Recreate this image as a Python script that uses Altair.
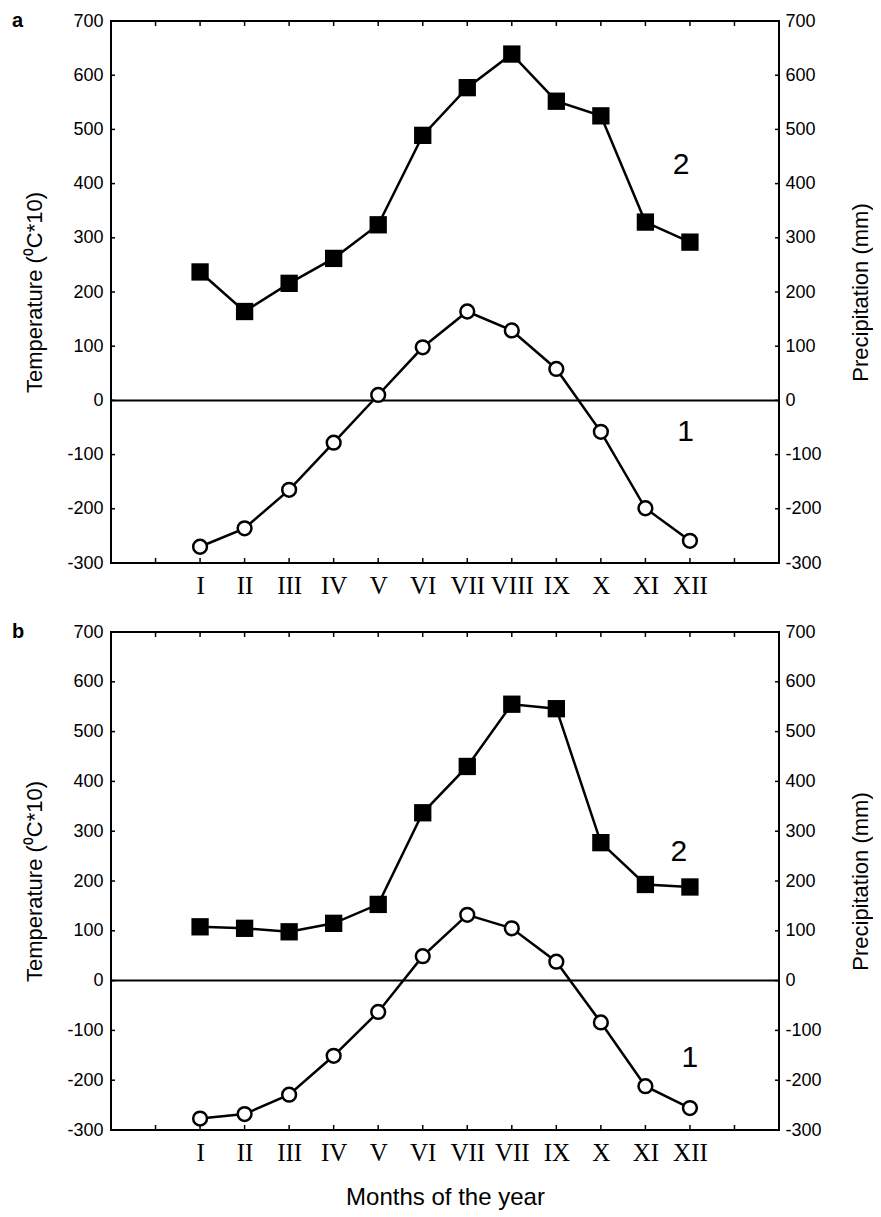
import altair as alt
import pandas as pd

# ---- data ----
months_a = ["I", "II", "III", "IV", "V", "VI", "VII", "VIII", "IX", "X", "XI", "XII"]
months_b = ["I", "II", "III", "IV", "V", "VI", "VII", "VII", "IX", "X", "XI", "XII"]
month_pos = [2, 3, 4, 5, 6, 7, 8, 9, 10, 11, 12, 13]
tick_pos_x = [1, 2, 3, 4, 5, 6, 7, 8, 9, 10, 11, 12, 13, 14]
tick_pos_y = [-200, -100, 0, 100, 200, 300, 400, 500, 600]
y_labels = [-300, -200, -100, 0, 100, 200, 300, 400, 500, 600, 700]

temp_a = [-270, -236, -165, -78, 10, 98, 164, 129, 58, -58, -199, -259]
prec_a = [237, 164, 216, 262, 324, 489, 577, 639, 552, 525, 329, 292]
temp_b = [-277, -268, -229, -151, -63, 49, 132, 105, 38, -84, -212, -256]
prec_b = [108, 105, 98, 115, 153, 337, 430, 555, 546, 277, 193, 188]

series_labels = ["1", "2"]
lab_a_x = [12.9, 12.8]
lab_a_y = [-58, 434]
lab_b_x = [13.0, 12.75]
lab_b_y = [-155, 258]

W = 668
FONT = "Liberation Sans"


def panel(names, temp, prec, lx, ly, letter, H, last):
    df = pd.DataFrame({"pos": month_pos, "temp": temp, "prec": prec})
    xs = alt.Scale(domain=[0, 15], nice=False, zero=False)
    ys = alt.Scale(domain=[-300, 700], nice=False, zero=False)
    label_expr = "[" + ",".join("'%s'" % n for n in names) + "][datum.value-2]"
    xaxis_kw = dict(values=month_pos, labelExpr=label_expr, ticks=False, domain=False,
                    grid=False, labelFont="Liberation Serif", labelFontSize=25,
                    labelPadding=10, labelColor="black", labelOverlap=False)
    if last:
        xaxis_kw.update(title="Months of the year", titleFont=FONT, titleFontSize=24,
                        titleFontWeight="normal", titlePadding=20, titleColor="black")
    else:
        xaxis_kw.update(title="")
    xaxis = alt.Axis(**xaxis_kw)
    Xf = lambda f: alt.X(f, scale=xs, axis=xaxis)

    left_axis = alt.Axis(values=y_labels, ticks=False, domain=False, grid=False,
                         labelExpr="datum.value + ''", labelPadding=8,
                         title="Temperature (\u2070C*10)", titlePadding=20)
    right_axis = alt.Axis(values=y_labels, ticks=False, domain=False, grid=False,
                          orient="right", labelPadding=6, labelAlign="left",
                          labelExpr="datum.value + ''",
                          title="Precipitation (mm)", titleAngle=270, titleBaseline="top",
                          titlePadding=29)

    base = alt.Chart(df)
    t_line = base.mark_line(color="black", strokeWidth=2.5).encode(
        x=Xf("pos:Q"), y=alt.Y("temp:Q", scale=ys, axis=left_axis))
    t_pts = base.mark_point(shape="circle", filled=True, fill="white", stroke="black",
                            strokeWidth=2.5, size=190, opacity=1).encode(
        x=Xf("pos:Q"), y=alt.Y("temp:Q", scale=ys, axis=None))
    p_line = base.mark_line(color="black", strokeWidth=2.5).encode(
        x=Xf("pos:Q"), y=alt.Y("prec:Q", scale=ys, axis=right_axis))
    p_pts = base.mark_point(shape="square", filled=True, color="black", size=300,
                            opacity=1).encode(
        x=Xf("pos:Q"), y=alt.Y("prec:Q", scale=ys, axis=None))

    zero = alt.Chart(pd.DataFrame({"z": [0]})).mark_rule(color="black", strokeWidth=2).encode(
        y=alt.Y("z:Q", scale=ys, axis=None))

    tx = pd.DataFrame({"t": tick_pos_x})
    ty = pd.DataFrame({"v": tick_pos_y})
    tb = alt.Chart(tx).mark_rule(color="black", strokeWidth=1.5).encode(
        x=Xf("t:Q"), y=alt.value(H - 5), y2=alt.value(H))
    tt = alt.Chart(tx).mark_rule(color="black", strokeWidth=1.5).encode(
        x=Xf("t:Q"), y=alt.value(0), y2=alt.value(5))
    tl = alt.Chart(ty).mark_rule(color="black", strokeWidth=1.5).encode(
        y=alt.Y("v:Q", scale=ys, axis=None), x=alt.value(0), x2=alt.value(4))
    tr = alt.Chart(ty).mark_rule(color="black", strokeWidth=1.5).encode(
        y=alt.Y("v:Q", scale=ys, axis=None), x=alt.value(W - 4), x2=alt.value(W))

    labs = alt.Chart(pd.DataFrame({"x": lx, "y": ly, "t": series_labels})).mark_text(
        font=FONT, fontSize=30, color="black", align="center", baseline="middle").encode(
        x=Xf("x:Q"), y=alt.Y("y:Q", scale=ys, axis=None), text="t:N")

    let = alt.Chart(pd.DataFrame({"t": [letter]})).mark_text(
        font=FONT, fontSize=20, fontWeight="bold", color="black", align="left",
        baseline="top").encode(x=alt.value(-99), y=alt.value(-10), text="t:N")

    return alt.layer(t_line, p_line, zero, tb, tt, tl, tr, t_pts, p_pts, labs, let).resolve_scale(
        y="independent").properties(width=W, height=H)


pa = panel(months_a, temp_a, prec_a, lab_a_x, lab_a_y, "a", 542, False)
pb = panel(months_b, temp_b, prec_b, lab_b_x, lab_b_y, "b", 498, True)

chart = alt.vconcat(pa, pb, spacing=22).properties(
    padding={"left": 3, "top": 2, "right": 0, "bottom": 0}
).configure_view(stroke="black", strokeWidth=2).configure_axis(
    labelFont=FONT, labelFontSize=18, labelColor="black",
    titleFont=FONT, titleFontSize=22, titleFontWeight="normal", titleColor="black")

chart.save("out.html", embed_options={"renderer": "svg", "actions": False})
